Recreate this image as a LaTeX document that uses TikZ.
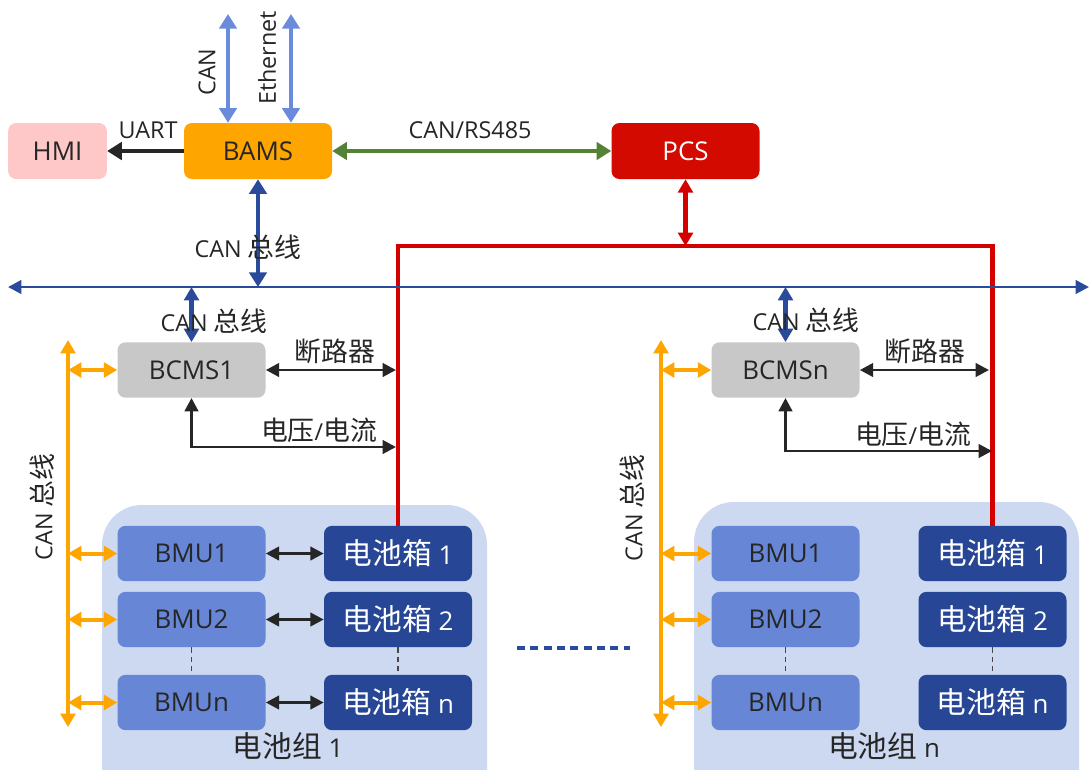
\documentclass[tikz,border=0pt]{standalone}
\usepackage{fontspec}
\setmainfont{Open Sans}
\newfontfamily\cjk[Scale=1.15]{Noto Sans CJK SC}
\usetikzlibrary{arrows.meta}
\definecolor{txt}{HTML}{262626}
\definecolor{hmic}{HTML}{FFC8C8}
\definecolor{bamsc}{HTML}{FFA500}
\definecolor{pcsc}{HTML}{D20A00}
\definecolor{bcmsc}{HTML}{C8C8C8}
\definecolor{bmuc}{HTML}{6787D6}
\definecolor{boxc}{HTML}{274796}
\definecolor{grpc}{HTML}{CCD9F1}
\definecolor{lblue}{HTML}{6A8BDB}
\definecolor{dblue}{HTML}{2A4A9B}
\definecolor{gline}{HTML}{538135}
\definecolor{oline}{HTML}{FFA500}
\definecolor{rline}{HTML}{D40000}
\tikzset{
  blk/.style={rounded corners=6pt, minimum width=111pt, minimum height=41.5pt, inner sep=0pt, font=\fontsize{19.4}{21}\selectfont, text=txt},
  lbl/.style={font=\fontsize{17.5}{19}\selectfont, text=txt, inner sep=0pt},
  boxlbl/.style={font=\fontsize{19.4}{21}\selectfont},
  tipbig/.tip={Triangle[width=13pt,length=11pt]},
  tipmid/.tip={Triangle[width=11pt,length=10pt]},
  tipsm/.tip={Triangle[width=10pt,length=10pt]},
  uartarr/.style={line width=3.6pt, draw=txt, -tipbig},
  greenarr/.style={line width=3.6pt, draw=gline, tipbig-tipbig},
  lbarr/.style={line width=3.4pt, draw=lblue, tipbig-tipbig},
  dbarr/.style={line width=3.4pt, draw=dblue, tipbig-tipbig},
  busarr/.style={line width=2.2pt, draw=dblue, tipsm-tipsm},
  redline/.style={line width=3.6pt, draw=rline},
  redarr/.style={line width=3.2pt, draw=rline, tipmid-tipmid},
  blkarr/.style={line width=2.2pt, draw=txt, tipsm-tipsm},
  orarr/.style={line width=3pt, draw=oline, tipmid-tipmid},
  dashln/.style={line width=1pt, draw=txt!85, dash pattern=on 4pt off 3pt},
}
\begin{document}
\begin{tikzpicture}[x=0.75pt,y=-0.75pt]
\clip (0,0) rectangle (1089,769);
\fill[white] (0,0) rectangle (1089,769);

% group backgrounds
\fill[grpc, rounded corners=30pt] (102,505) rectangle (487,820);
\fill[grpc, rounded corners=30pt] (694,502) rectangle (1079,820);

% top nodes
\node[blk, fill=hmic, minimum width=74pt, minimum height=42pt] (hmi) at (57.5,151) {HMI};
\node[blk, fill=bamsc, minimum height=42pt] (bams) at (258,151) {BAMS};
\node[blk, fill=pcsc, text=white, minimum height=42pt] (pcs) at (685.5,151) {PCS};

% BCMS
\node[blk, fill=bcmsc] (bcms1) at (191.5,370) {BCMS1};
\node[blk, fill=bcmsc] (bcmsn) at (785.5,370) {BCMSn};

% group 1
\node[blk, fill=bmuc] (u11) at (191.5,553.5) {BMU1};
\node[blk, fill=bmuc] (u12) at (191.5,619.5) {BMU2};
\node[blk, fill=bmuc] (u1n) at (191.5,702.5) {BMUn};
\node[blk, fill=boxc, text=white, boxlbl] (b11) at (398,553.5) {{\cjk 电池箱} 1};
\node[blk, fill=boxc, text=white, boxlbl] (b12) at (398,619.5) {{\cjk 电池箱} 2};
\node[blk, fill=boxc, text=white, boxlbl] (b1n) at (398,702.5) {{\cjk 电池箱} n};
% group n
\node[blk, fill=bmuc] (un1) at (785.5,553.5) {BMU1};
\node[blk, fill=bmuc] (un2) at (785.5,619.5) {BMU2};
\node[blk, fill=bmuc] (unn) at (785.5,702.5) {BMUn};
\node[blk, fill=boxc, text=white, boxlbl] (bn1) at (992.5,553.5) {{\cjk 电池箱} 1};
\node[blk, fill=boxc, text=white, boxlbl] (bn2) at (992.5,619.5) {{\cjk 电池箱} 2};
\node[blk, fill=boxc, text=white, boxlbl] (bnn) at (992.5,702.5) {{\cjk 电池箱} n};

% coordinates
\coordinate (canT) at (228,14);
\coordinate (ethT) at (291,14);
\coordinate (busL) at (8,287);
\coordinate (busR) at (1089,287);
\coordinate (r1) at (398,246);
\coordinate (r2) at (992.5,246);
\coordinate (brk1) at (396,370);
\coordinate (vol1) at (396,447);
\coordinate (brkn) at (989,370);
\coordinate (voln) at (992,451);
\coordinate (o1t) at (68,340);
\coordinate (o1b) at (68,727);
\coordinate (ont) at (661,340);
\coordinate (onb) at (661,727);
\coordinate (dotL) at (517,648);
\coordinate (dotR) at (630,648);

% top connectors
\draw[uartarr] (bams.west) -- (hmi.east);
\draw[greenarr] (bams.east) -- (pcs.west);
\draw[lbarr] (canT) -- (canT |- bams.north);
\draw[lbarr] (ethT) -- (ethT |- bams.north);

% red power line
\draw[redline] (b11.north) -- (r1) -- (r2) -- (bn1.north);
\draw[redarr] (pcs.south) -- (pcs.south |- r1);

% bus
\draw[busarr] (busL) -- (busR);
\draw[dbarr] (bams.south) -- (bams.south |- busL);
\draw[dbarr, tipmid-tipmid] (bcms1.north) -- (bcms1.north |- busL);
\draw[dbarr, tipmid-tipmid] (bcmsn.north) -- (bcmsn.north |- busL);

% BCMS connectors
\draw[blkarr] (bcms1.east) -- (brk1);
\draw[blkarr] (bcms1.south) |- (vol1);
\draw[blkarr] (bcmsn.east) -- (brkn);
\draw[blkarr] (bcmsn.south) |- (voln);

% orange CAN buses
\draw[orarr] (o1t) -- (o1b);
\draw[orarr] (o1t |- bcms1) -- (bcms1.west);
\draw[orarr] (o1t |- u11) -- (u11.west);
\draw[orarr] (o1t |- u12) -- (u12.west);
\draw[orarr] (o1t |- u1n) -- (u1n.west);
\draw[orarr] (ont) -- (onb);
\draw[orarr] (ont |- bcmsn) -- (bcmsn.west);
\draw[orarr] (ont |- un1) -- (un1.west);
\draw[orarr] (ont |- un2) -- (un2.west);
\draw[orarr] (ont |- unn) -- (unn.west);

% BMU <-> boxes (group 1)
\draw[blkarr] (u11.east) -- (b11.west);
\draw[blkarr] (u12.east) -- (b12.west);
\draw[blkarr] (u1n.east) -- (b1n.west);

% dashed continuation
\draw[dashln] (u12.south) -- (u1n.north);
\draw[dashln] (b12.south) -- (b1n.north);
\draw[dashln] (un2.south) -- (unn.north);
\draw[dashln] (bn2.south) -- (bnn.north);

% dotted blue between groups
\draw[line width=3.5pt, draw=dblue, dash pattern=on 6pt off 4pt] (dotL) -- (dotR);

% labels
\node[lbl] (tuart) at (148,130) {UART};
\node[lbl] (trs) at (470,130) {CAN/RS485};
\node[lbl, rotate=90] (tcan) at (207,72) {CAN};
\node[lbl, rotate=90] (teth) at (267,58) {Ethernet};
\node[lbl] (tbus0) at (248,247) {CAN {\cjk 总线}};
\node[lbl] (tbus1) at (214,321) {CAN {\cjk 总线}};
\node[lbl] (tbusn) at (806,320) {CAN {\cjk 总线}};
\node[lbl] (tbrk1) at (335,351) {\cjk 断路器};
\node[lbl] (tbrkn) at (925,351) {\cjk 断路器};
\node[lbl] (tvol1) at (319,430) {{\cjk 电压}/{\cjk 电流}};
\node[lbl] (tvoln) at (913,434) {{\cjk 电压}/{\cjk 电流}};
\node[lbl, rotate=90] (tcg1) at (42,507) {CAN {\cjk 总线}};
\node[lbl, rotate=90] (tcgn) at (632,508) {CAN {\cjk 总线}};
\node[lbl, font=\fontsize{19.4}{21}\selectfont] (tg1) at (288,746) {{\cjk 电池组} 1};
\node[lbl, font=\fontsize{19.4}{21}\selectfont] (tgn) at (884,746) {{\cjk 电池组} n};
\end{tikzpicture}
\end{document}
